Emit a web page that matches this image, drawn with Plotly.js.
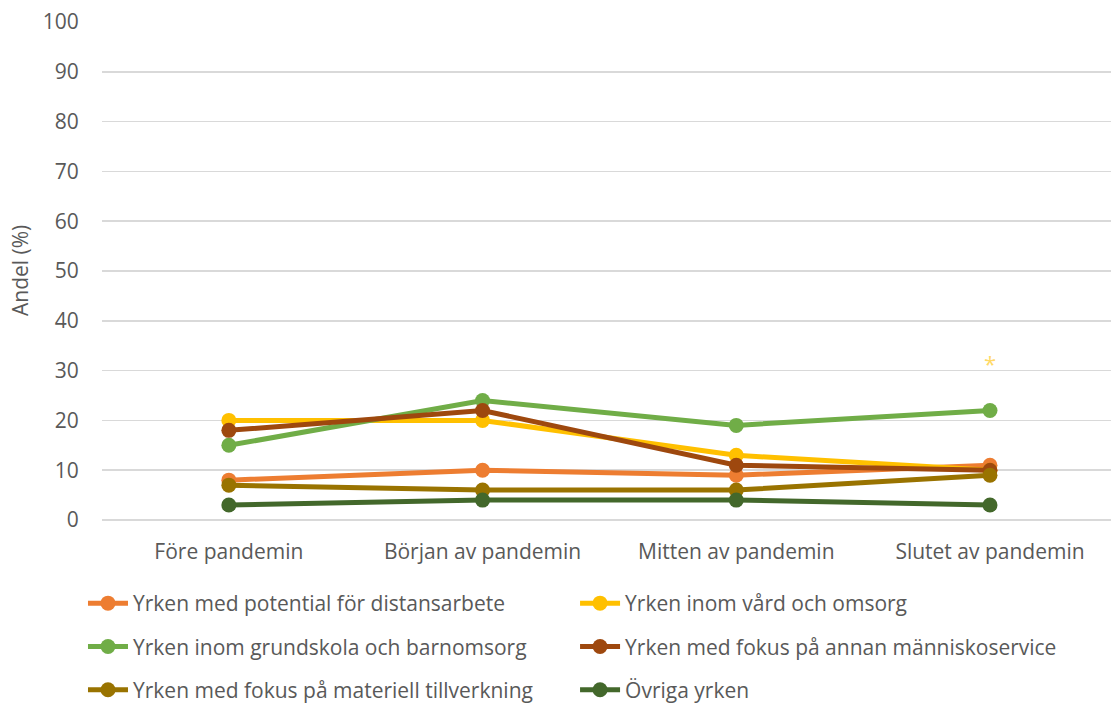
<!DOCTYPE html>
<html>
<head>
<meta charset="utf-8">
<script src="https://cdn.plot.ly/plotly-3.0.1.min.js"></script>
<style>html,body{margin:0;padding:0;background:#fff;overflow:hidden}#chart{width:1111px;height:706px}</style>
</head>
<body>
<div id="chart"></div>
<script>
const categories = ["Före pandemin", "Början av pandemin", "Mitten av pandemin", "Slutet av pandemin"];
const seriesNames = [
  "Yrken med potential för distansarbete",
  "Yrken inom vård och omsorg",
  "Yrken inom grundskola och barnomsorg",
  "Yrken med fokus på annan människoservice",
  "Yrken med fokus på materiell tillverkning",
  "Övriga yrken"
];
const distansarbete = [8, 10, 9, 11];
const vardOmsorg = [20, 20, 13, 10];
const grundskola = [15, 24, 19, 22];
const manniskoservice = [18, 22, 11, 10];
const tillverkning = [7, 6, 6, 9];
const ovriga = [3, 4, 4, 3];
const seriesValues = [distansarbete, vardOmsorg, grundskola, manniskoservice, tillverkning, ovriga];
const colors = ["#ED7D31", "#FFC000", "#70AD47", "#9E480E", "#997300", "#43682B"];
const yTicks = [0, 10, 20, 30, 40, 50, 60, 70, 80, 90, 100];
const yAxisTitle = "Andel (%)";
const starLabel = "*";
const starCategory = "Slutet av pandemin";
const starValue = 31.5;

const FONT = "Open Sans, sans-serif";
const FS = 21;
const traces = seriesValues.map((vals, i) => ({
  type: "scatter",
  mode: "lines+markers",
  x: categories,
  y: vals,
  name: seriesNames[i],
  line: {color: colors[i], width: 5},
  marker: {color: colors[i], size: 15},
  legend: (i % 2 === 0) ? "legend" : "legend2",
  legendgroup: "g" + i
}));

const legendCommon = {
  xref: "container", yref: "container",
  yanchor: "top", xanchor: "left",
  orientation: "v",
  font: {family: FONT, size: FS, color: "#595959"},
  tracegroupgap: 13,
  bgcolor: "rgba(0,0,0,0)",
  borderwidth: 0,
  itemwidth: 40
};

const layout = {
  width: 1111, height: 706,
  margin: {l: 102, r: 0, t: 22, b: 185.5, autoexpand: false},
  paper_bgcolor: "#fff", plot_bgcolor: "#fff",
  font: {family: FONT, color: "#595959", size: FS},
  xaxis: {
    type: "category",
    range: [-0.5, 3.477],
    showgrid: false, zeroline: false, showline: false,
    ticks: "outside", ticklen: 13, tickcolor: "rgba(0,0,0,0)", tickangle: 0,
    tickfont: {family: FONT, size: FS, color: "#595959"},
    automargin: false
  },
  yaxis: {
    range: [0, 100], tickvals: yTicks, ticktext: yTicks.map(String),
    showgrid: true, gridcolor: "#D9D9D9", gridwidth: 1.5,
    zeroline: true, zerolinecolor: "#D9D9D9", zerolinewidth: 1.5,
    showline: false, ticks: "outside", ticklen: 18, tickcolor: "rgba(0,0,0,0)",
    tickfont: {family: FONT, size: FS, color: "#595959"},
    automargin: false
  },
  legend: Object.assign({}, legendCommon, {x: 0.0747, y: 1 - 583 / 706}),
  legend2: Object.assign({}, legendCommon, {x: 0.5176, y: 1 - 583 / 706}),
  annotations: [
    {
      x: starCategory, y: starValue, xref: "x", yref: "y",
      text: starLabel, showarrow: false,
      font: {family: FONT, size: 22, color: "#FFD966"}
    },
    {
      x: (20 - 102) / (1111 - 102), y: 0.5, xref: "paper", yref: "y domain",
      text: yAxisTitle, showarrow: false, textangle: -90,
      xanchor: "center", yanchor: "middle",
      font: {family: FONT, size: FS, color: "#595959"}
    }
  ],
  showlegend: true
};

Plotly.newPlot("chart", traces, layout, {displayModeBar: false, staticPlot: true});
</script>
</body>
</html>
